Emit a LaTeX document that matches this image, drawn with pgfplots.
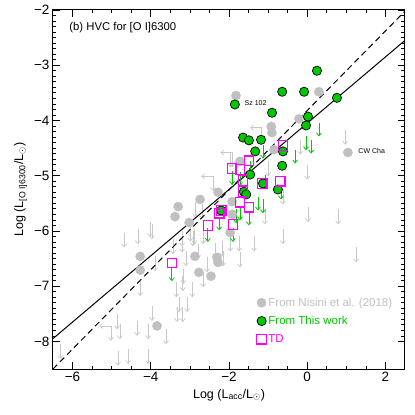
\documentclass[border=0pt]{standalone}
\usepackage{fontspec}
\setmainfont{Liberation Sans}
\usepackage{amsmath}
\usepackage{pgfplots}
\pgfplotsset{compat=1.18}
\usetikzlibrary{arrows.meta}
\definecolor{ngray}{RGB}{192,192,192}
\definecolor{agray}{RGB}{200,200,200}
\definecolor{tgreen}{RGB}{0,200,0}
\definecolor{tmag}{RGB}{255,0,255}

\begin{document}
\begin{tikzpicture}
\begin{axis}[
  name=ax, scale only axis, width=352pt, height=359pt,
  xmin=-6.5, xmax=2.5, ymin=-8.5, ymax=-2,
  xtick={-6,-4,-2,0,2}, xticklabels={−6,−4,−2,0,2},
  ytick={-8,-7,-6,-5,-4,-3,-2}, yticklabels={−8,−7,−6,−5,−4,−3,−2},
  minor x tick num=3, minor y tick num=9,
  tick align=inside, major tick length=7pt, minor tick length=3.5pt,
  tick style={black, line width=0.7pt},
  axis line style={line width=1pt},
  tick label style={font=\fontsize{13.5}{15}\selectfont},
  label style={font=\fontsize{12.5}{14}\selectfont},
  xlabel={Log (L$_{\text{acc}}$/L$_\odot$)},
  ylabel={Log (L$_{\text{[O I]6300}}$/L$_\odot$)},
  legend style={at={(axis description cs:0.57,0.21)}, anchor=north west,
    draw=none, fill=none, font=\fontsize{11.5}{13}\selectfont, row sep=4.5pt},
  legend cell align=left,
]
% Nisini upper limits
\addplot[agray, line width=0.7pt, -{Straight Barb[length=3pt,width=5pt]}, quiver={u=0,v=-0.27}, forget plot] table {
x y
-4.68 -6.03
-4.33 -5.97
-3.97 -5.88
-3.89 -6.46
-3.43 -6.15
-3.20 -6.01
-2.92 -6.01
-3.10 -6.37
-3.17 -6.69
-2.94 -6.93
-3.35 -6.93
-4.27 -6.91
-3.28 -7.20
-3.07 -7.20
-3.33 -7.38
-3.18 -7.38
-3.97 -7.36
-4.86 -7.51
-4.35 -7.63
-4.07 -7.69
-3.61 -7.78
-4.79 -7.69
-5.02 -7.72
-4.84 -8.17
-4.58 -8.14
-4.07 -8.14
-2.87 -5.48
-2.89 -5.97
0.97 -4.17
-0.18 -4.35
-1.97 -4.58
-1.00 -4.74
0.00 -4.80
-2.69 -5.52
-4.02 -5.84
-2.99 -5.92
-2.66 -5.97
-2.36 -6.21
-2.18 -6.19
-1.97 -6.10
-1.74 -6.10
-1.36 -6.10
-3.20 -6.12
-2.79 -6.24
-0.62 -5.97
-1.08 -5.61
0.02 -5.57
-0.62 -5.25
-2.56 -6.48
-1.72 -6.39
-3.18 -6.82
-2.66 -6.75
-2.15 -6.37
0.79 -5.61
1.25 -6.30
-6.30 -8.05
-1.16 -4.13
-1.92 -4.58
-2.41 -5.01
};
\addplot[agray, line width=0.7pt, -{Straight Barb[length=3pt,width=5pt]}, quiver={u=-0.3,v=0}, forget plot] table {
x y
-1.16 -4.13
-1.92 -4.58
-2.41 -5.01
-5.02 -7.72
};
% Nisini detections
\addplot[only marks, mark=*, mark size=4.6pt, color=ngray] table {
x y
-1.82 -3.55
0.30 -3.48
-0.21 -3.97
-0.92 -4.11
-0.90 -4.22
1.04 -4.58
-1.72 -4.74
-0.85 -4.53
-2.28 -5.30
-2.74 -5.43
-3.30 -5.56
-3.38 -5.74
-3.02 -5.85
-1.92 -5.47
-1.92 -5.70
-1.97 -6.03
-2.87 -6.46
-2.31 -6.48
-2.28 -6.57
-2.77 -6.75
-2.46 -6.82
-4.27 -6.46
-4.27 -6.71
-3.84 -7.72
};
\addlegendentry{\textcolor{ngray}{From Nisini et al. (2018)}}
% fits
\addplot[black, line width=1pt, forget plot] coordinates {(-6.5,-7.95) (2.5,-2.55)};
\addplot[black, line width=1pt, dash pattern=on 6pt off 4pt, forget plot] coordinates {(-6.5,-8.5) (2.5,-2.02)};
% this work upper limits
\addplot[tgreen, line width=0.8pt, -{Straight Barb[length=3pt,width=5pt]}, quiver={u=0,v=-0.25}, forget plot] table {
x y
0.30 -4.04
-0.03 -4.29
0.10 -4.35
-0.31 -4.53
-1.13 -4.44
-1.46 -4.74
-1.92 -4.92
-1.72 -4.94
-1.08 -4.98
-0.67 -5.18
-1.26 -5.38
-1.13 -5.43
-1.72 -5.56
-1.49 -5.65
-1.82 -5.61
-2.25 -5.74
-1.90 -5.95
-2.54 -5.95
-3.46 -6.66
};
% this work detections
\addplot[only marks, mark=*, mark size=4.6pt, mark options={fill=tgreen, draw=black, line width=0.7pt}] table {
x y
0.25 -3.10
-0.64 -3.48
-0.08 -3.48
0.76 -3.59
-1.85 -3.71
-0.90 -3.86
0.02 -3.93
-0.03 -4.09
-1.64 -4.31
-1.49 -4.36
-1.18 -4.35
-1.33 -4.56
-0.62 -4.56
-0.64 -4.82
-1.46 -4.98
-1.13 -5.14
-0.75 -5.25
-1.62 -5.29
-1.56 -5.34
-2.20 -5.63
};
\addlegendentry{\textcolor{tgreen}{From This work}}
% transition disks
\addplot[only marks, mark=square, mark size=4.8pt, mark options={draw=tmag, line width=1.1pt}] table {
x y
-0.62 -4.45
-1.49 -4.73
-1.92 -4.87
-1.72 -4.89
-1.64 -5.09
-1.15 -5.14
-0.69 -5.10
-1.64 -5.29
-1.72 -5.48
-1.49 -5.57
-2.20 -5.63
-2.25 -5.68
-1.90 -5.88
-2.54 -5.90
-3.46 -6.58
};
\addlegendentry{\textcolor{tmag}{TD}}
\node[anchor=west, font=\fontsize{11.3}{13}\selectfont] at (axis cs:-6.17,-2.31) {(b) HVC for [O I]6300};
\node[anchor=west, font=\fontsize{7}{8}\selectfont] at (axis cs:-1.69,-3.68) {Sz 102};
\node[anchor=west, font=\fontsize{7}{8}\selectfont] at (axis cs:1.22,-4.56) {CW Cha};
\end{axis}
\pgfresetboundingbox
\path[use as bounding box] ([shift={(-53pt,-46pt)}]ax.south west) rectangle ([shift={(10pt,10pt)}]ax.north east);
\end{tikzpicture}
\end{document}
